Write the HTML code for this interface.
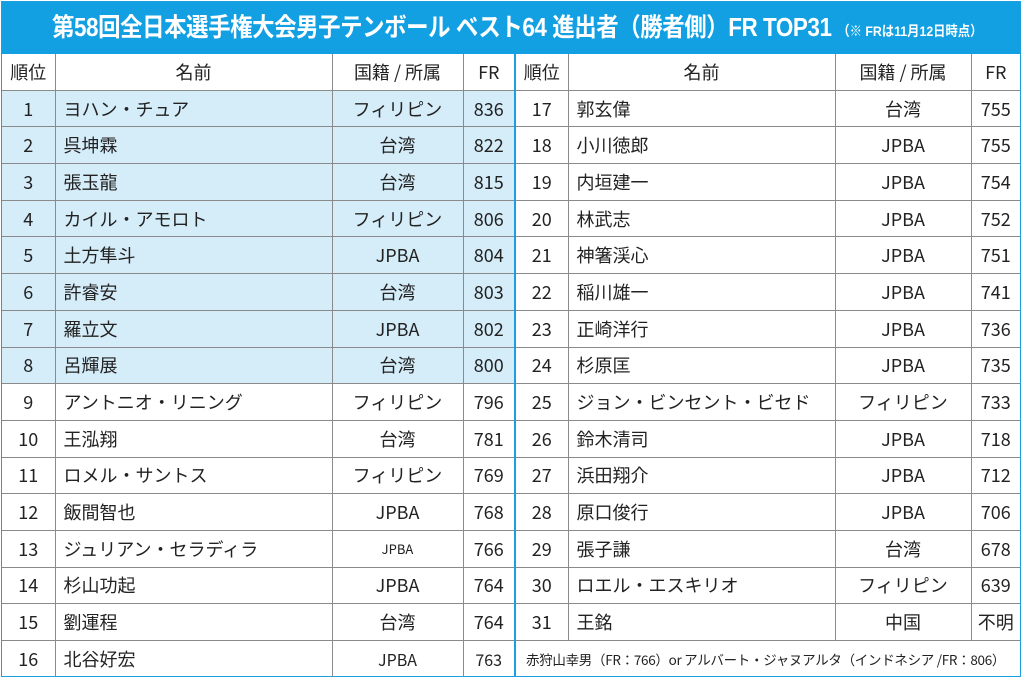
<!DOCTYPE html><html><head><meta charset="utf-8"><style>
body{margin:0;width:1024px;height:680px;background:#fff;font-family:"Noto Sans CJK JP",sans-serif;overflow:hidden}
.wrap{position:absolute;left:1px;top:1px;width:1020px;height:676px;border:1px solid #1a9fe0;box-sizing:border-box}
.hd{position:absolute;left:0;top:0;width:1018px;height:52px;background:#12a0e2;color:#fff;font-weight:bold;line-height:52px;white-space:nowrap;overflow:hidden}
.hd span{position:absolute;left:50px;top:0;font-family:"Liberation Sans","Noto Sans CJK JP",sans-serif;font-size:25.5px;letter-spacing:-0.5px;transform:scaleX(0.88);transform-origin:0 50%}
.hd small{font-size:14px;letter-spacing:0}
table{position:absolute;left:0;top:52px;border-collapse:collapse;table-layout:fixed;width:1018px}
td{border:1px solid #8a8a8a;height:35.7px;padding:0;font-size:18px;line-height:20px;color:#222;text-align:center;white-space:nowrap;overflow:hidden}
td.n{text-align:left;padding-left:8px}
tr.h td{background:#d5ecf9}
tr.h td.r{background:#fff}
td.mid{border-left:2px solid #1a9fe0}
tr:first-child td{border-top:none}
td:first-child{border-left:none}
td:last-child{border-right:none}
tr:last-child td{border-bottom:none}
</style></head><body><div class="wrap">
<div class="hd"><span>第58回全日本選手権大会男子テンボール ベスト64 進出者（勝者側）FR TOP31 <small>（※ FRは11月12日時点）</small></span></div>
<table>
<colgroup><col style="width:53px"><col style="width:277px"><col style="width:131px"><col style="width:52px"><col style="width:53px"><col style="width:267px"><col style="width:136px"><col style="width:49px"></colgroup>
<tr><td>順位</td><td>名前</td><td>国籍 / 所属</td><td>FR</td><td class="mid">順位</td><td>名前</td><td>国籍 / 所属</td><td>FR</td></tr>
<tr class="h"><td>1</td><td class="n">ヨハン・チュア</td><td>フィリピン</td><td>836</td><td class="mid r">17</td><td class="n r">郭玄偉</td><td class="r">台湾</td><td class="r">755</td></tr>
<tr class="h"><td>2</td><td class="n">呉坤霖</td><td>台湾</td><td>822</td><td class="mid r">18</td><td class="n r">小川徳郎</td><td class="r">JPBA</td><td class="r">755</td></tr>
<tr class="h"><td>3</td><td class="n">張玉龍</td><td>台湾</td><td>815</td><td class="mid r">19</td><td class="n r">内垣建一</td><td class="r">JPBA</td><td class="r">754</td></tr>
<tr class="h"><td>4</td><td class="n">カイル・アモロト</td><td>フィリピン</td><td>806</td><td class="mid r">20</td><td class="n r">林武志</td><td class="r">JPBA</td><td class="r">752</td></tr>
<tr class="h"><td>5</td><td class="n">土方隼斗</td><td>JPBA</td><td>804</td><td class="mid r">21</td><td class="n r">神箸渓心</td><td class="r">JPBA</td><td class="r">751</td></tr>
<tr class="h"><td>6</td><td class="n">許睿安</td><td>台湾</td><td>803</td><td class="mid r">22</td><td class="n r">稲川雄一</td><td class="r">JPBA</td><td class="r">741</td></tr>
<tr class="h"><td>7</td><td class="n">羅立文</td><td>JPBA</td><td>802</td><td class="mid r">23</td><td class="n r">正崎洋行</td><td class="r">JPBA</td><td class="r">736</td></tr>
<tr class="h"><td>8</td><td class="n">呂輝展</td><td>台湾</td><td>800</td><td class="mid r">24</td><td class="n r">杉原匡</td><td class="r">JPBA</td><td class="r">735</td></tr>
<tr><td>9</td><td class="n">アントニオ・リニング</td><td>フィリピン</td><td>796</td><td class="mid">25</td><td class="n">ジョン・ビンセント・ビセド</td><td>フィリピン</td><td>733</td></tr>
<tr><td>10</td><td class="n">王泓翔</td><td>台湾</td><td>781</td><td class="mid">26</td><td class="n">鈴木清司</td><td>JPBA</td><td>718</td></tr>
<tr><td>11</td><td class="n">ロメル・サントス</td><td>フィリピン</td><td>769</td><td class="mid">27</td><td class="n">浜田翔介</td><td>JPBA</td><td>712</td></tr>
<tr><td>12</td><td class="n">飯間智也</td><td>JPBA</td><td>768</td><td class="mid">28</td><td class="n">原口俊行</td><td>JPBA</td><td>706</td></tr>
<tr><td>13</td><td class="n">ジュリアン・セラディラ</td><td style="font-size:13px">JPBA</td><td>766</td><td class="mid">29</td><td class="n">張子謙</td><td>台湾</td><td>678</td></tr>
<tr><td>14</td><td class="n">杉山功起</td><td>JPBA</td><td>764</td><td class="mid">30</td><td class="n">ロエル・エスキリオ</td><td>フィリピン</td><td>639</td></tr>
<tr><td>15</td><td class="n">劉運程</td><td>台湾</td><td>764</td><td class="mid">31</td><td class="n">王銘</td><td>中国</td><td>不明</td></tr>
<tr><td>16</td><td class="n">北谷好宏</td><td style="font-size:16px">JPBA</td><td style="font-size:16px">763</td><td class="mid" colspan="4" style="font-size:13.5px;text-align:left;padding-left:10px;letter-spacing:-0.3px">赤狩山幸男（FR：766）or アルバート・ジャヌアルタ（インドネシア /FR：806）</td></tr>
</table></div></body></html>
